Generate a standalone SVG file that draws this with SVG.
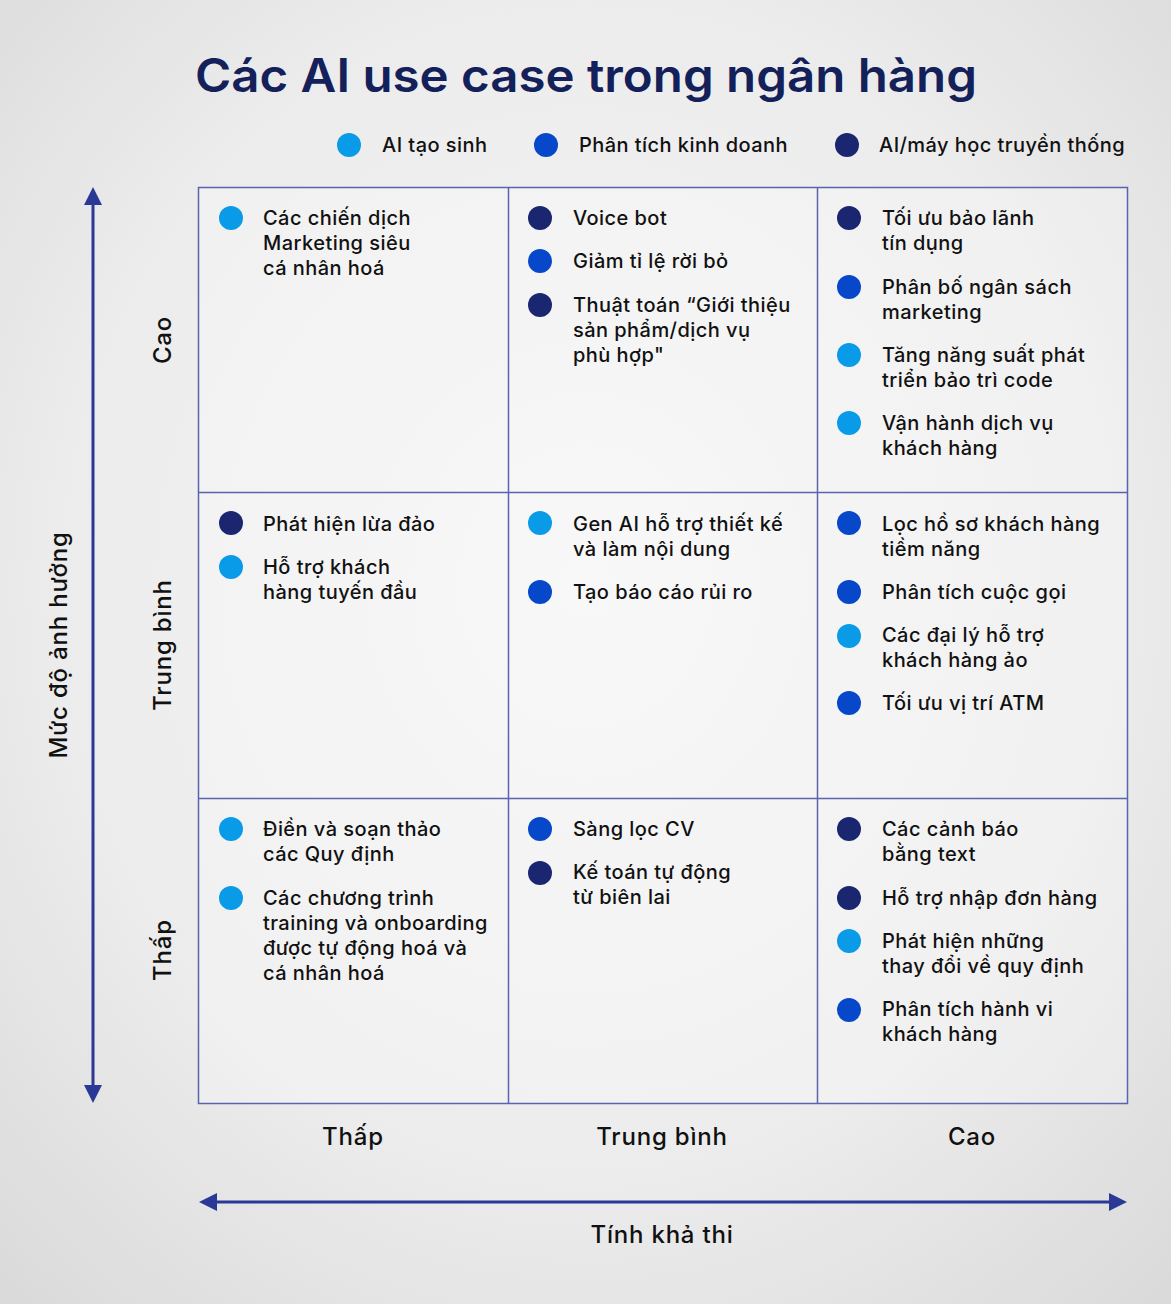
<svg xmlns="http://www.w3.org/2000/svg" width="1171" height="1304" viewBox="0 0 1171 1304">
<defs>
<radialGradient id="bg" cx="0.5" cy="0.45" r="0.75">
<stop offset="0" stop-color="#f6f6f6"/>
<stop offset="0.6" stop-color="#ececec"/>
<stop offset="1" stop-color="#d9d9d9"/>
</radialGradient>
<marker id="ah" viewBox="0 0 20 20" refX="10" refY="10" markerWidth="20" markerHeight="20" markerUnits="userSpaceOnUse" orient="auto-start-reverse">
<path d="M0,1 L18,10 L0,19 Z" fill="#2a3996"/>
</marker>
</defs>
<style>
.t{font-family:Inter,"Noto Sans",sans-serif;font-weight:500;font-size:20px;letter-spacing:0.45px;fill:#111;}
.ax{font-family:Inter,"Noto Sans",sans-serif;font-weight:500;font-size:24px;letter-spacing:0.8px;fill:#111;}
.title{font-family:Inter,"Noto Sans",sans-serif;font-weight:600;font-size:46px;fill:#13205a;}
.g{fill:#0a9be8;}
.b{fill:#0747c9;}
.n{fill:#1b2670;}
.grid{fill:none;stroke:#5a63ad;stroke-width:1.5;}
.arr{stroke:#2a3996;stroke-width:3;fill:none;}
</style>
<rect x="0" y="0" width="1171" height="1304" fill="url(#bg)"/>
<text class="title" x="586" y="92" text-anchor="middle" textLength="782" lengthAdjust="spacingAndGlyphs">Các AI use case trong ngân hàng</text>
<g id="legend">
<circle class="g" cx="349" cy="145" r="12"/><text class="t" x="382" y="152">AI tạo sinh</text>
<circle class="b" cx="546" cy="145" r="12"/><text class="t" x="579" y="152">Phân tích kinh doanh</text>
<circle class="n" cx="847" cy="145" r="12"/><text class="t" x="879" y="152">AI/máy học truyền thống</text>
</g>
<g id="grid">
<rect x="198.5" y="187.5" width="929" height="916" fill="#ffffff" fill-opacity="0.25"/>
<rect class="grid" x="198.5" y="187.5" width="929" height="916"/>
<line class="grid" x1="508.5" y1="187" x2="508.5" y2="1104"/>
<line class="grid" x1="817.5" y1="187" x2="817.5" y2="1104"/>
<line class="grid" x1="198" y1="492.5" x2="1128" y2="492.5"/>
<line class="grid" x1="198" y1="798.5" x2="1128" y2="798.5"/>
</g>
<g id="connectors">
<line class="arr" x1="93" y1="195" x2="93" y2="1095" marker-start="url(#ah)" marker-end="url(#ah)"/>
<line class="arr" x1="207" y1="1202" x2="1119" y2="1202" marker-start="url(#ah)" marker-end="url(#ah)"/>
</g>
<g id="axis-labels">
<text class="ax" x="353" y="1145" text-anchor="middle">Thấp</text>
<text class="ax" x="662" y="1145" text-anchor="middle">Trung bình</text>
<text class="ax" x="972" y="1145" text-anchor="middle">Cao</text>
<text class="ax" x="662" y="1243" text-anchor="middle">Tính khả thi</text>
<text class="ax" transform="translate(171,340) rotate(-90)" text-anchor="middle">Cao</text>
<text class="ax" transform="translate(171,645) rotate(-90)" text-anchor="middle">Trung bình</text>
<text class="ax" transform="translate(171,950) rotate(-90)" text-anchor="middle">Thấp</text>
<text class="ax" transform="translate(67,645) rotate(-90)" text-anchor="middle">Mức độ ảnh hưởng</text>
</g>
<g id="cell-high-low">
<circle class="g" cx="231" cy="218" r="12"/>
<text class="t" x="263" y="225">Các chiến dịch</text>
<text class="t" x="263" y="250">Marketing siêu</text>
<text class="t" x="263" y="275">cá nhân hoá</text>
</g>
<g id="cell-high-mid">
<circle class="n" cx="540" cy="218" r="12"/><text class="t" x="573" y="225">Voice bot</text>
<circle class="b" cx="540" cy="261" r="12"/><text class="t" x="573" y="268">Giảm tỉ lệ rời bỏ</text>
<circle class="n" cx="540" cy="305" r="12"/>
<text class="t" x="573" y="312">Thuật toán “Giới thiệu</text>
<text class="t" x="573" y="337">sản phẩm/dịch vụ</text>
<text class="t" x="573" y="362">phù hợp"</text>
</g>
<g id="cell-high-high">
<circle class="n" cx="849" cy="218" r="12"/><text class="t" x="882" y="225">Tối ưu bảo lãnh</text><text class="t" x="882" y="250">tín dụng</text>
<circle class="b" cx="849" cy="287" r="12"/><text class="t" x="882" y="294">Phân bố ngân sách</text><text class="t" x="882" y="319">marketing</text>
<circle class="g" cx="849" cy="355" r="12"/><text class="t" x="882" y="362">Tăng năng suất phát</text><text class="t" x="882" y="387">triển bảo trì code</text>
<circle class="g" cx="849" cy="423" r="12"/><text class="t" x="882" y="430">Vận hành dịch vụ</text><text class="t" x="882" y="455">khách hàng</text>
</g>
<g id="cell-mid-low">
<circle class="n" cx="231" cy="523" r="12"/><text class="t" x="263" y="531">Phát hiện lừa đảo</text>
<circle class="g" cx="231" cy="567" r="12"/><text class="t" x="263" y="574">Hỗ trợ khách</text><text class="t" x="263" y="599">hàng tuyến đầu</text>
</g>
<g id="cell-mid-mid">
<circle class="g" cx="540" cy="523" r="12"/><text class="t" x="573" y="531">Gen AI hỗ trợ thiết kế</text><text class="t" x="573" y="556">và làm nội dung</text>
<circle class="b" cx="540" cy="592" r="12"/><text class="t" x="573" y="599">Tạo báo cáo rủi ro</text>
</g>
<g id="cell-mid-high">
<circle class="b" cx="849" cy="523" r="12"/><text class="t" x="882" y="531">Lọc hồ sơ khách hàng</text><text class="t" x="882" y="556">tiềm năng</text>
<circle class="b" cx="849" cy="592" r="12"/><text class="t" x="882" y="599">Phân tích cuộc gọi</text>
<circle class="g" cx="849" cy="636" r="12"/><text class="t" x="882" y="642">Các đại lý hỗ trợ</text><text class="t" x="882" y="667">khách hàng ảo</text>
<circle class="b" cx="849" cy="703" r="12"/><text class="t" x="882" y="710">Tối ưu vị trí ATM</text>
</g>
<g id="cell-low-low">
<circle class="g" cx="231" cy="829" r="12"/><text class="t" x="263" y="836">Điền và soạn thảo</text><text class="t" x="263" y="861">các Quy định</text>
<circle class="g" cx="231" cy="898" r="12"/><text class="t" x="263" y="905">Các chương trình</text><text class="t" x="263" y="930">training và onboarding</text><text class="t" x="263" y="955">được tự động hoá và</text><text class="t" x="263" y="980">cá nhân hoá</text>
</g>
<g id="cell-low-mid">
<circle class="b" cx="540" cy="829" r="12"/><text class="t" x="573" y="836">Sàng lọc CV</text>
<circle class="n" cx="540" cy="873" r="12"/><text class="t" x="573" y="879">Kế toán tự động</text><text class="t" x="573" y="904">từ biên lai</text>
</g>
<g id="cell-low-high">
<circle class="n" cx="849" cy="829" r="12"/><text class="t" x="882" y="836">Các cảnh báo</text><text class="t" x="882" y="861">bằng text</text>
<circle class="n" cx="849" cy="898" r="12"/><text class="t" x="882" y="905">Hỗ trợ nhập đơn hàng</text>
<circle class="g" cx="849" cy="941" r="12"/><text class="t" x="882" y="948">Phát hiện những</text><text class="t" x="882" y="973">thay đổi về quy định</text>
<circle class="b" cx="849" cy="1010" r="12"/><text class="t" x="882" y="1016">Phân tích hành vi</text><text class="t" x="882" y="1041">khách hàng</text>
</g>
</svg>
